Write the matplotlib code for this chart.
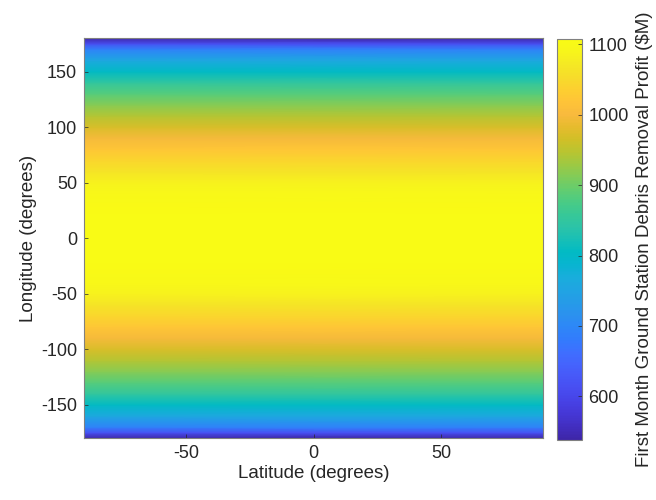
import numpy as np
import matplotlib
matplotlib.use("Agg")
import matplotlib.pyplot as plt
from matplotlib.colors import LinearSegmentedColormap

# profit, only varies with longitude (symmetric about 0)
longitude = [-180, -175, -170, -160, -150, -140, -130, -120, -110, -100, -90, -80, -70, -60, -50, -40, -30, -20, -10,
             0, 10, 20, 30, 40, 50, 60, 70, 80, 90, 100, 110, 120, 130, 140, 150, 160, 170, 175, 180]
profit = [540, 615, 690, 760, 805, 850, 885, 915, 945, 970, 998, 1022, 1045, 1065, 1085, 1097, 1103, 1106, 1108,
          1108, 1108, 1106, 1103, 1097, 1085, 1065, 1045, 1022, 998, 970, 945, 915, 885, 850, 805, 760, 690, 615, 540]
latitude = [-90, 90]

xticks = [-50, 0, 50]
yticks = [-150, -100, -50, 0, 50, 100, 150]
cticks = [600, 700, 800, 900, 1000, 1100]

# MATLAB parula (every other entry of the 64-colour table)
parula_rgb = [
    (0.2422, 0.1504, 0.6603), (0.2578, 0.1818, 0.7511), (0.2706, 0.2147, 0.8364), (0.2783, 0.2559, 0.8991),
    (0.2813, 0.3006, 0.9414), (0.2795, 0.3447, 0.9717), (0.2699, 0.3892, 0.9906), (0.2440, 0.4358, 0.9988),
    (0.1963, 0.4847, 0.9892), (0.1786, 0.5289, 0.9682), (0.1687, 0.5703, 0.9359), (0.1460, 0.6091, 0.9079),
    (0.1248, 0.6459, 0.8883), (0.0952, 0.6798, 0.8598), (0.0297, 0.7082, 0.8163), (0.0067, 0.7312, 0.7660),
    (0.0964, 0.7500, 0.7120), (0.1717, 0.7670, 0.6554), (0.2161, 0.7843, 0.5923), (0.2906, 0.7973, 0.5188),
    (0.3909, 0.8029, 0.4354), (0.5044, 0.7993, 0.3480), (0.6174, 0.7876, 0.2612), (0.7242, 0.7698, 0.1910),
    (0.8203, 0.7498, 0.1535), (0.9035, 0.7330, 0.1774), (0.9728, 0.7298, 0.2394), (0.9970, 0.7659, 0.2199),
    (0.9892, 0.8136, 0.1885), (0.9676, 0.8639, 0.1643), (0.9597, 0.9135, 0.1423), (0.9691, 0.9606, 0.1064),
    (0.9769, 0.9839, 0.0805),
]
parula = LinearSegmentedColormap.from_list("parula", parula_rgb, N=256)

plt.rcParams['font.family'] = ['Liberation Sans', 'DejaVu Sans']
plt.rcParams['axes.unicode_minus'] = False
txt = (0.15, 0.15, 0.15)

fig = plt.figure(figsize=(6.56, 5.0), dpi=100)
ax = fig.add_axes([0.128, 0.1234, 0.7, 0.80])
cax = fig.add_axes([0.8486, 0.12, 0.0381, 0.8026])

X, Y = np.meshgrid(latitude, longitude)
C = np.tile(np.array(profit, dtype=float)[:, None], (1, len(latitude)))
mesh = ax.pcolormesh(X, Y, C, shading='gouraud', cmap=parula, vmin=538, vmax=1108)

ax.set_xlim(-90, 90)
ax.set_ylim(-180, 180)
ax.set_xticks(xticks)
ax.set_yticks(yticks)
ax.tick_params(direction='in', length=3, width=0.5, colors=txt, labelsize=13, pad=5)
for s in ax.spines.values():
    s.set_color((0.5, 0.5, 0.5))
    s.set_linewidth(0.8)
ax.set_xlabel("Latitude (degrees)", color=txt, fontsize=13.5, labelpad=2)
ax.set_ylabel("Longitude (degrees)", color=txt, fontsize=13.5, labelpad=3)

cb = fig.colorbar(mesh, cax=cax, ticks=cticks)
cb.outline.set_edgecolor((0.5, 0.5, 0.5))
cb.outline.set_linewidth(0.8)
cax.tick_params(direction='in', length=3, width=0.5, colors=txt, labelsize=13, pad=5)
cb.set_label("First Month Ground Station Debris Removal Profit ($M)", color=txt, fontsize=13.5, labelpad=5)

fig.savefig("out.png", dpi=100)
